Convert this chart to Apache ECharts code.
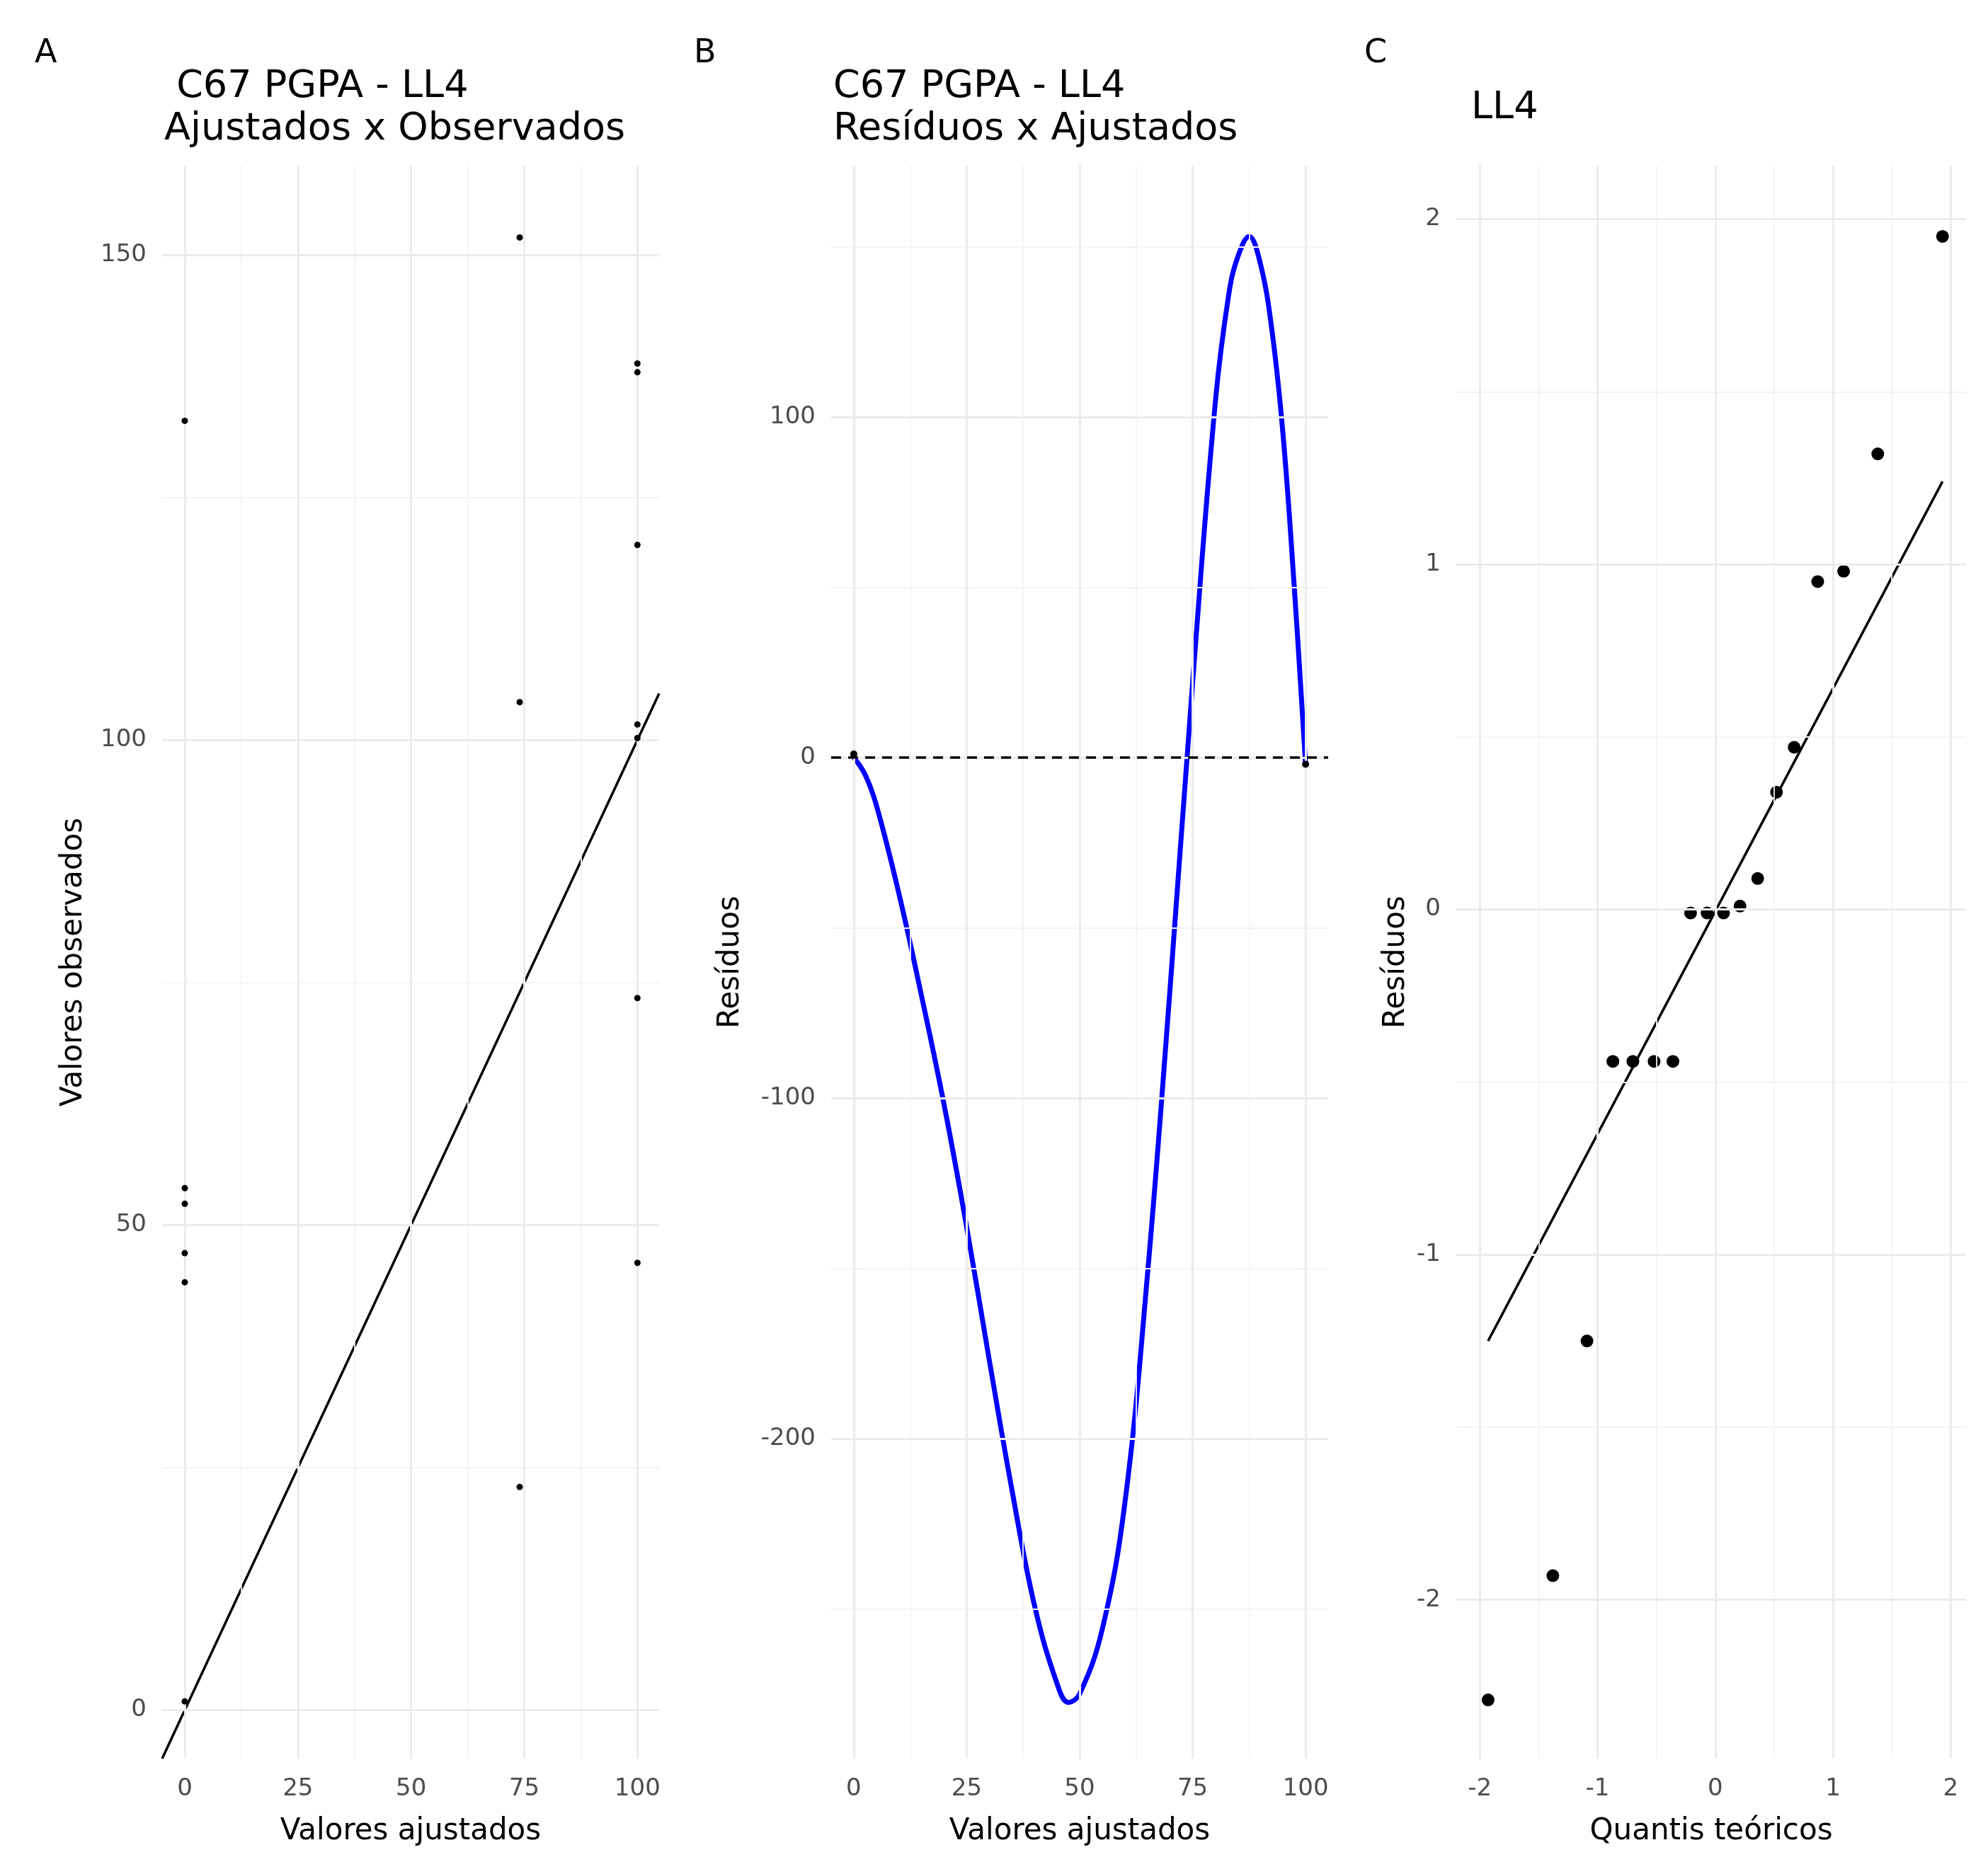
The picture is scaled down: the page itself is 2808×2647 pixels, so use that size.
<!DOCTYPE html>
<html>
<head>
<meta charset="utf-8">
<script src="https://cdn.jsdelivr.net/npm/echarts@6/dist/echarts.min.js"></script>
<style>html,body{margin:0;padding:0;background:#fff}#c{width:2808px;height:2647px}</style>
</head>
<body>
<div id="c"></div>
<script>
// painel A: ajustados x observados
var obsFitted = [0, 0, 0, 0, 0, 0, 74, 74, 74, 100, 100, 100, 100, 100, 100, 100];
var obsValues = [132.9, 53.8, 52.2, 47.1, 44.1, 0.9, 151.8, 103.9, 23, 138.8, 137.9, 120.1, 101.6, 100.2, 73.4, 46.1];

// painel B: curva dos resíduos
var curveX = [0, 2.5, 5, 10, 15, 20, 25, 30, 35, 40, 45, 47.5, 50, 55, 60, 65, 70, 75, 80, 83, 85, 87.5, 90, 92.5, 95, 97.5, 100];
var curveY = [0, -5, -14, -40, -70, -102, -138, -177, -215, -249, -272, -277.5, -275, -256, -219, -152, -68, 22, 104, 136, 147, 153, 145, 126, 95, 50, -2];
var residPts = [[0, 1], [100, -2]];

// painel C: QQ
var qqTheo = [-1.93, -1.38, -1.09, -0.87, -0.70, -0.52, -0.36, -0.21, -0.07, 0.07, 0.21, 0.36, 0.52, 0.67, 0.87, 1.09, 1.38, 1.93];
var qqResid = [-2.29, -1.93, -1.25, -0.44, -0.44, -0.44, -0.44, -0.01, -0.01, -0.01, 0.01, 0.09, 0.34, 0.47, 0.95, 0.98, 1.32, 1.95];
var qqLine = [[-1.93, -1.25], [1.93, 1.24]];

var ticksA_x = [0, 25, 50, 75, 100], minorA_x = [12.5, 37.5, 62.5, 87.5];
var ticksA_y = [0, 50, 100, 150], minorA_y = [25, 75, 125];
var ticksB_y = [-200, -100, 0, 100], minorB_y = [-250, -150, -50, 50, 150];
var ticksC = [-2, -1, 0, 1, 2], minorC = [-1.5, -0.5, 0.5, 1.5];

var chart = echarts.init(document.getElementById('c'));
var FONT = 'DejaVu Sans';
var tickLbl = {color: '#4d4d4d', fontSize: 34, fontFamily: FONT};
var nameSt = {color: '#000', fontSize: 42, fontFamily: FONT};

function gridLines(xi, yi, xMaj, xMin, yMaj, yMin) {
  var d = [];
  xMin.forEach(function (v) { d.push({xAxis: v, lineStyle: {color: '#f3f3f3', width: 1.8, type: 'solid'}}); });
  yMin.forEach(function (v) { d.push({yAxis: v, lineStyle: {color: '#f3f3f3', width: 1.8, type: 'solid'}}); });
  xMaj.forEach(function (v) { d.push({xAxis: v, lineStyle: {color: '#ebebeb', width: 3, type: 'solid'}}); });
  yMaj.forEach(function (v) { d.push({yAxis: v, lineStyle: {color: '#ebebeb', width: 3, type: 'solid'}}); });
  return {type: 'line', xAxisIndex: xi, yAxisIndex: yi, data: [], z: 0, silent: true,
    markLine: {silent: true, symbol: 'none', label: {show: false}, animation: false, data: d}};
}

function xAx(i, min, max, ticks, name) {
  return {gridIndex: i, type: 'value', min: min, max: max, name: name, nameLocation: 'middle', nameGap: 82, nameTextStyle: nameSt,
    axisLine: {show: false}, axisTick: {show: false}, splitLine: {show: false},
    axisLabel: Object.assign({customValues: ticks, margin: 26}, tickLbl)};
}
function yAx(i, min, max, ticks, name, gap) {
  return {gridIndex: i, type: 'value', min: min, max: max, name: name, nameLocation: 'middle', nameGap: gap, nameTextStyle: nameSt,
    axisLine: {show: false}, axisTick: {show: false}, splitLine: {show: false},
    axisLabel: Object.assign({customValues: ticks, margin: 22}, tickLbl)};
}

var titleSt = {fontSize: 54, fontWeight: 'normal', color: '#000', fontFamily: FONT, lineHeight: 60};
var letterSt = {fontSize: 46, fontWeight: 'normal', fontFamily: FONT, color: '#000'};

chart.setOption({
  animation: false,
  title: [
    {text: 'A', left: 44, top: 48, textStyle: letterSt},
    {text: 'B', left: 975, top: 48, textStyle: letterSt},
    {text: 'C', left: 1922, top: 48, textStyle: letterSt},
    {text: ' C67 PGPA - LL4\nAjustados x Observados', left: 227, top: 88, textStyle: titleSt},
    {text: 'C67 PGPA - LL4\nResíduos x Ajustados', left: 1172, top: 88, textStyle: titleSt},
    {text: 'LL4', left: 2073, top: 118, textStyle: titleSt}
  ],
  grid: [
    {left: 229, width: 702, top: 234, height: 2250},
    {left: 1174, width: 702, top: 234, height: 2250},
    {left: 2057, width: 720, top: 234, height: 2250}
  ],
  xAxis: [
    xAx(0, -5, 104.8, ticksA_x, 'Valores ajustados'),
    xAx(1, -5, 105, ticksA_x, 'Valores ajustados'),
    xAx(2, -2.2, 2.13, ticksC, 'Quantis teóricos')
  ],
  yAxis: [
    yAx(0, -5, 159.2, ticksA_y, 'Valores observados', 104),
    yAx(1, -294, 173.8, ticksB_y, 'Resíduos', 121),
    yAx(2, -2.46, 2.155, ticksC, 'Resíduos', 64)
  ],
  series: [
    gridLines(0, 0, ticksA_x, minorA_x, ticksA_y, minorA_y),
    gridLines(1, 1, ticksA_x, minorA_x, ticksB_y, minorB_y),
    gridLines(2, 2, ticksC, minorC, ticksC, minorC),
    {type: 'line', xAxisIndex: 0, yAxisIndex: 0, data: [[-5, -5], [104.8, 104.8]], symbol: 'none',
      lineStyle: {color: '#000', width: 3.5}, z: 3},
    {type: 'scatter', xAxisIndex: 0, yAxisIndex: 0, symbolSize: 9, itemStyle: {color: '#000', opacity: 1}, z: 5,
      data: obsFitted.map(function (x, i) { return [x, obsValues[i]]; })},
    {type: 'line', xAxisIndex: 1, yAxisIndex: 1, data: [], silent: true,
      markLine: {silent: true, symbol: 'none', label: {show: false},
        data: [{yAxis: 0, lineStyle: {color: '#000', width: 3.5, type: [14, 10]}}]}},
    {type: 'line', xAxisIndex: 1, yAxisIndex: 1, smooth: 0.4, symbol: 'none',
      data: curveX.map(function (x, i) { return [x, curveY[i]]; }),
      lineStyle: {color: '#0000ff', width: 7}, z: 4},
    {type: 'scatter', xAxisIndex: 1, yAxisIndex: 1, symbolSize: 10, itemStyle: {color: '#000', opacity: 1}, data: residPts, z: 5},
    {type: 'line', xAxisIndex: 2, yAxisIndex: 2, data: qqLine, symbol: 'none', lineStyle: {color: '#000', width: 3.5}, z: 3},
    {type: 'scatter', xAxisIndex: 2, yAxisIndex: 2, symbolSize: 18, itemStyle: {color: '#000', opacity: 1},
      data: qqTheo.map(function (x, i) { return [x, qqResid[i]]; }), z: 4}
  ]
});
</script>
</body>
</html>
